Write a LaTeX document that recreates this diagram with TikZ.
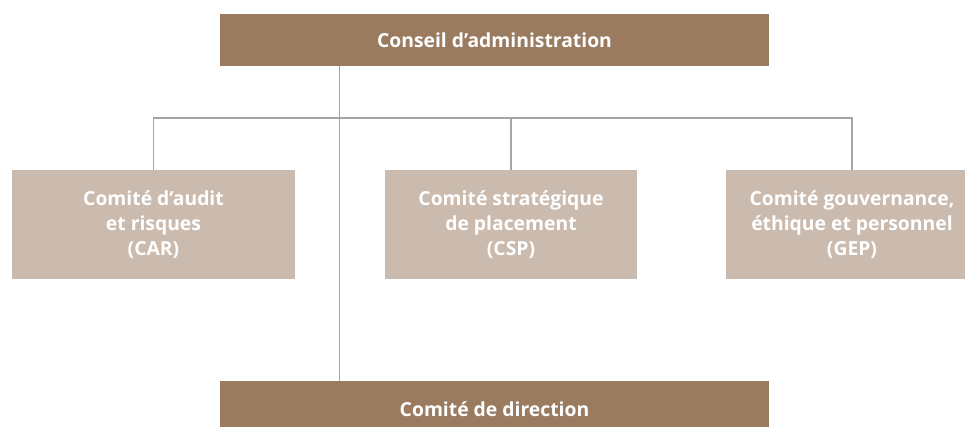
\documentclass[tikz,border=0pt]{standalone}
\usepackage{fontspec}
\setsansfont{Open Sans}
\definecolor{darkbrown}{HTML}{9A7B60}
\definecolor{lightbrown}{HTML}{CBBBAF}
\definecolor{conncol}{HTML}{A5A5A5}
\begin{document}
\begin{tikzpicture}[x=0.75pt,y=-0.75pt,
  boxbase/.style={draw=none, text=white, align=center, inner sep=0pt,
    font=\sffamily\bfseries\fontsize{14.5}{18.5}\selectfont},
  darkbox/.style={boxbase, fill=darkbrown, minimum width=411.75pt},
  lightbox/.style={boxbase, fill=lightbrown, minimum height=81.75pt},
  conn/.style={draw=conncol, line width=0.9pt}]
\useasboundingbox (0,0) rectangle (965,427);
\node[darkbox, minimum height=39pt] (ca) at (494.5,40) {Conseil d’administration};
\node[darkbox, minimum height=42pt] (cd) at (494.5,409) {Comité de direction};
\node[lightbox, minimum width=212.25pt] (car) at (153.5,224.5) {Comité d’audit\\et risques\\(CAR)};
\node[lightbox, minimum width=189pt] (csp) at (511,224.5) {Comité stratégique\\de placement\\(CSP)};
\node[lightbox, minimum width=189pt] (gep) at (852,224.5) {Comité gouvernance,\\éthique et personnel\\(GEP)};
\coordinate (bus) at (0,118);
\draw[conn] ([xshift=90pt]ca.south west) -- ([xshift=90pt]cd.north west);
\draw[conn] (car.north) -- (car.north |- bus) -- (gep.north |- bus) -- (gep.north);
\draw[conn] (csp.north) -- (csp.north |- bus);
\end{tikzpicture}
\end{document}
